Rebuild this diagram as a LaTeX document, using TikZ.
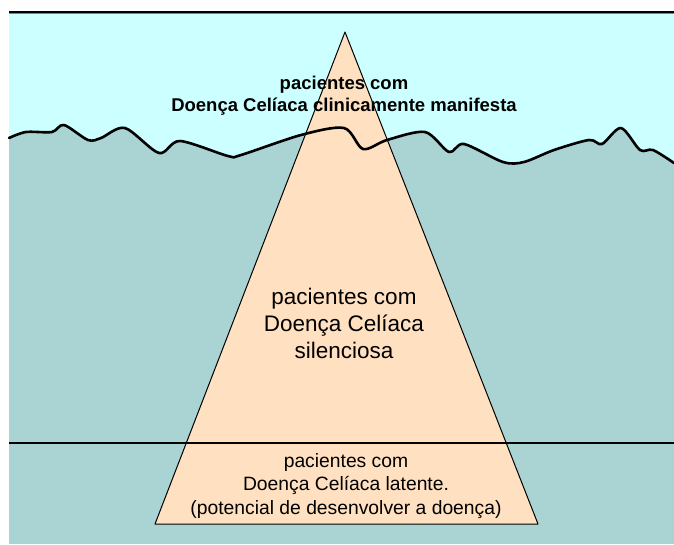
\documentclass[tikz,border=0pt]{standalone}
\usepackage{fontspec}
\setmainfont{Liberation Sans}
\usepackage{tikz}

\definecolor{skyblue}{RGB}{204,255,255}
\definecolor{seateal}{RGB}{170,212,212}
\definecolor{bergpeach}{RGB}{255,224,192}

\begin{document}
\begin{tikzpicture}[
    x=1pt, y=-1pt,
    wave/.style={draw, line width=2.6pt, line join=round, line cap=round},
    berg/.style={draw, fill=bergpeach, line width=1pt, line join=round},
    label/.style={align=center, inner sep=0pt}
  ]
    \useasboundingbox (0,0) rectangle (674,544);

    % Sea and sky
    \fill[seateal] (9,12) rectangle (674,544);
    \fill[skyblue] (9,12) -- (9,138) -- plot[smooth, tension=0.5] coordinates {(9,138) (26,132) (52,132) (64,125) (88,140) (101,138) (125,128) (159,153) (180,141) (228,156) (241,155) (301,135) (344,128) (363,149) (387,140) (425,132) (449,152) (464,144) (503,162) (524,162) (554,150) (589,140) (602,144) (621,128) (640,150) (653,150) (674,163)} -- (674,12) -- cycle;
    \draw[cyan, line width=1pt] (9,13.5) -- (674,13.5);
    \draw[line width=1.2pt] (9,12) -- (674,12);

    % Iceberg
    \coordinate (apex) at (345,32);
    \coordinate (baseR) at (538,524);
    \coordinate (baseL) at (155,524);
    \draw[berg] (apex) -- (baseR) -- (baseL) -- cycle;

    % Water line
    \draw[wave] plot[smooth, tension=0.5] coordinates {(9,138) (26,132) (52,132) (64,125) (88,140) (101,138) (125,128) (159,153) (180,141) (228,156) (241,155) (301,135) (344,128) (363,149) (387,140) (425,132) (449,152) (464,144) (503,162) (524,162) (554,150) (589,140) (602,144) (621,128) (640,150) (653,150) (674,163)};

    % Latent limit
    \coordinate (limL) at (9,443);
    \coordinate (limR) at (674,443);
    \draw[line width=1.6pt] (limL) -- (limR);

    % Labels
    \node[label, font=\bfseries\fontsize{18.5}{22}\selectfont] (manifest) at (344,96) {pacientes com\\Doença Celíaca clinicamente manifesta};
    \node[label, font=\fontsize{22.5}{27}\selectfont] (silent) at (344,323) {pacientes com\\Doença Celíaca\\silenciosa};
    \node[label, font=\fontsize{19.3}{23.5}\selectfont] (latent) at (346,486) {pacientes com\\Doença Celíaca latente.\\(potencial de desenvolver a doença)};
  \end{tikzpicture}
\end{document}
